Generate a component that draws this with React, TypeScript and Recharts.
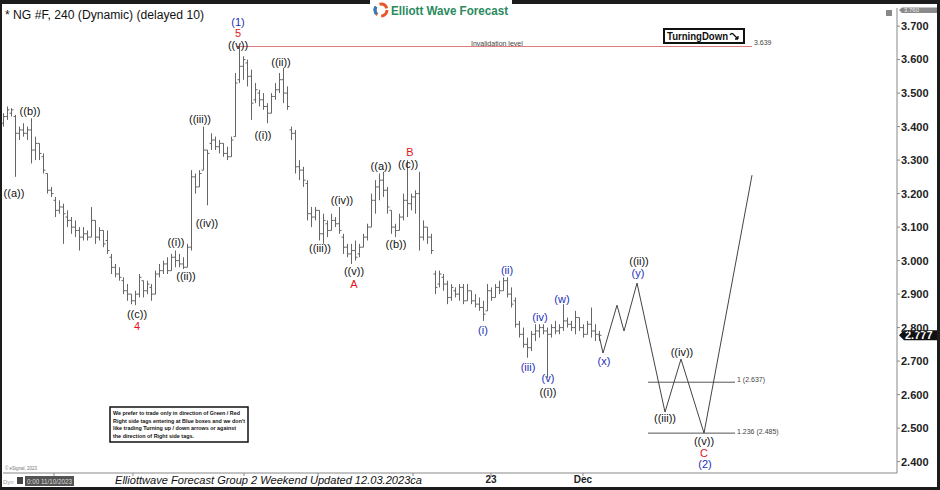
import React from "react";
import { ComposedChart, Bar, Line, Scatter, XAxis, YAxis, ReferenceLine } from "recharts";

const FONT = "Arial, 'Liberation Sans', sans-serif";

// 240 min bars: open, high, low, close
const bars: [number, number, number, number][] = [
  [3.41, 3.44, 3.40, 3.43], [3.43, 3.46, 3.42, 3.45], [3.44, 3.455, 3.43, 3.45], [3.43, 3.435, 3.25, 3.38],
  [3.38, 3.40, 3.36, 3.39], [3.39, 3.41, 3.37, 3.38], [3.38, 3.40, 3.36, 3.39], [3.39, 3.425, 3.29, 3.33],
  [3.33, 3.37, 3.30, 3.35], [3.35, 3.35, 3.30, 3.32], [3.31, 3.32, 3.26, 3.27], [3.26, 3.26, 3.20, 3.21],
  [3.21, 3.22, 3.19, 3.20], [3.18, 3.19, 3.13, 3.15], [3.15, 3.18, 3.14, 3.16], [3.16, 3.17, 3.05, 3.14],
  [3.13, 3.15, 3.10, 3.12], [3.12, 3.13, 3.08, 3.10], [3.10, 3.12, 3.07, 3.09], [3.09, 3.10, 3.03, 3.07],
  [3.07, 3.10, 3.06, 3.08], [3.08, 3.09, 3.06, 3.07], [3.07, 3.16, 3.07, 3.12], [3.12, 3.12, 3.05, 3.07],
  [3.07, 3.10, 3.06, 3.09], [3.09, 3.09, 3.04, 3.05], [3.06, 3.09, 3.02, 3.03], [3.01, 3.02, 2.96, 2.98],
  [2.98, 2.99, 2.95, 2.96], [2.96, 2.98, 2.94, 2.95], [2.94, 2.95, 2.90, 2.91], [2.91, 2.93, 2.88, 2.90],
  [2.90, 2.90, 2.87, 2.88], [2.88, 2.91, 2.867, 2.90], [2.90, 2.96, 2.89, 2.95], [2.94, 2.94, 2.89, 2.91],
  [2.91, 2.94, 2.90, 2.93], [2.92, 2.93, 2.88, 2.90], [2.90, 2.97, 2.90, 2.96], [2.96, 2.99, 2.95, 2.97],
  [2.97, 3.00, 2.96, 2.99], [2.99, 3.01, 2.96, 2.97], [2.97, 3.02, 2.97, 3.01], [3.01, 3.03, 2.98, 3.00],
  [3.00, 3.02, 2.98, 2.99], [2.99, 3.01, 2.975, 2.98], [2.98, 3.05, 2.98, 3.04], [3.04, 3.27, 3.03, 3.25],
  [3.25, 3.26, 3.20, 3.22], [3.22, 3.27, 3.22, 3.26], [3.27, 3.40, 3.27, 3.33], [3.33, 3.33, 3.165, 3.32],
  [3.35, 3.38, 3.33, 3.36], [3.36, 3.37, 3.33, 3.34], [3.34, 3.36, 3.32, 3.35], [3.35, 3.35, 3.31, 3.32],
  [3.32, 3.34, 3.30, 3.31], [3.31, 3.37, 3.31, 3.36], [3.37, 3.56, 3.37, 3.53], [3.54, 3.639, 3.53, 3.58],
  [3.58, 3.61, 3.54, 3.60], [3.59, 3.60, 3.52, 3.55], [3.55, 3.57, 3.42, 3.47], [3.48, 3.53, 3.47, 3.51],
  [3.50, 3.51, 3.46, 3.48], [3.48, 3.50, 3.45, 3.46], [3.46, 3.47, 3.41, 3.44], [3.44, 3.50, 3.44, 3.49],
  [3.49, 3.53, 3.48, 3.51], [3.51, 3.56, 3.50, 3.54], [3.54, 3.575, 3.47, 3.50], [3.50, 3.52, 3.45, 3.46],
  [3.39, 3.40, 3.36, 3.38], [3.38, 3.39, 3.26, 3.28], [3.28, 3.30, 3.24, 3.27], [3.27, 3.28, 3.22, 3.24],
  [3.23, 3.24, 3.12, 3.14], [3.14, 3.16, 3.10, 3.13], [3.13, 3.16, 3.12, 3.15], [3.15, 3.15, 3.06, 3.08],
  [3.08, 3.14, 3.05, 3.12], [3.11, 3.12, 3.07, 3.09], [3.09, 3.14, 3.09, 3.12], [3.12, 3.13, 3.10, 3.11],
  [3.11, 3.16, 3.08, 3.09], [3.07, 3.08, 3.02, 3.04], [3.04, 3.05, 3.01, 3.02], [3.02, 3.05, 2.99, 3.03],
  [3.03, 3.06, 3.00, 3.01], [3.02, 3.05, 3.01, 3.04], [3.04, 3.08, 3.04, 3.07], [3.07, 3.11, 3.06, 3.10],
  [3.10, 3.20, 3.10, 3.18], [3.18, 3.24, 3.14, 3.22], [3.22, 3.26, 3.18, 3.24], [3.24, 3.265, 3.19, 3.21],
  [3.21, 3.22, 3.14, 3.16], [3.15, 3.15, 3.08, 3.10], [3.10, 3.11, 3.07, 3.09], [3.09, 3.14, 3.09, 3.13],
  [3.13, 3.20, 3.12, 3.18], [3.18, 3.30, 3.13, 3.17], [3.17, 3.20, 3.15, 3.19], [3.19, 3.21, 3.14, 3.20],
  [3.20, 3.265, 3.03, 3.07], [3.07, 3.12, 3.06, 3.10], [3.10, 3.10, 3.05, 3.07], [3.07, 3.08, 3.02, 3.03],
  [2.96, 2.97, 2.90, 2.92], [2.93, 2.97, 2.92, 2.96], [2.95, 2.96, 2.91, 2.93], [2.93, 2.94, 2.87, 2.89],
  [2.89, 2.93, 2.88, 2.92], [2.91, 2.92, 2.89, 2.90], [2.90, 2.93, 2.88, 2.92], [2.92, 2.93, 2.87, 2.88],
  [2.88, 2.93, 2.88, 2.91], [2.91, 2.91, 2.87, 2.88], [2.88, 2.90, 2.86, 2.87], [2.87, 2.89, 2.85, 2.86],
  [2.86, 2.88, 2.82, 2.84], [2.85, 2.93, 2.85, 2.91], [2.91, 2.92, 2.88, 2.89], [2.89, 2.93, 2.89, 2.92],
  [2.92, 2.94, 2.90, 2.91], [2.91, 2.95, 2.91, 2.94], [2.94, 2.95, 2.89, 2.90], [2.90, 2.92, 2.86, 2.87],
  [2.88, 2.89, 2.80, 2.81], [2.81, 2.82, 2.77, 2.78], [2.78, 2.80, 2.74, 2.75], [2.75, 2.77, 2.71, 2.74],
  [2.74, 2.79, 2.73, 2.78], [2.78, 2.81, 2.76, 2.79], [2.79, 2.81, 2.77, 2.80], [2.80, 2.81, 2.78, 2.79],
  [2.79, 2.80, 2.65, 2.78], [2.78, 2.81, 2.77, 2.80], [2.80, 2.82, 2.78, 2.79], [2.79, 2.81, 2.78, 2.80],
  [2.80, 2.87, 2.79, 2.82], [2.82, 2.83, 2.80, 2.81], [2.81, 2.82, 2.79, 2.80], [2.80, 2.85, 2.78, 2.83],
  [2.83, 2.83, 2.79, 2.80], [2.80, 2.81, 2.77, 2.78], [2.78, 2.82, 2.78, 2.81], [2.81, 2.86, 2.77, 2.79],
  [2.79, 2.81, 2.76, 2.78], [2.78, 2.79, 2.76, 2.777],
];

// projected path (bar index, price)
const projIdx = [149, 150, 153.5, 155.25, 158.5, 165.5, 169.5, 175.25, 187.25];
const projVal = [2.777, 2.724, 2.867, 2.79, 2.933, 2.548, 2.706, 2.485, 3.255];

const yTicks = [2.4, 2.5, 2.6, 2.7, 2.8, 2.9, 3.0, 3.1, 3.2, 3.3, 3.4, 3.5, 3.6, 3.7];
const xTickIdx = [12.75, 32.5, 60.25, 78.75, 102.5, 122, 145];
const xTickText = ["", "", "", "", "", "23", "Dec"];

const lastPrice = 2.777;
const invalidation = 3.639;
const invalidFrom = 58.25;
const invalidTo = 187.25;
const fibLevels = [2.637, 2.485];
const fibFrom = 161.25;
const fibTo = 183;

const waveLabels = [
  { i: 58.75, v: 3.712, text: "(1)", kind: "b" },
  { i: 58.75, v: 3.679, text: "5", kind: "r" },
  { i: 58.75, v: 3.644, text: "((v))", kind: "k" },
  { i: 2.75, v: 3.201, text: "((a))", kind: "k" },
  { i: 6.75, v: 3.446, text: "((b))", kind: "k" },
  { i: 33.5, v: 2.842, text: "((c))", kind: "k" },
  { i: 33.5, v: 2.806, text: "4", kind: "r" },
  { i: 43.25, v: 3.055, text: "((i))", kind: "k" },
  { i: 45.75, v: 2.954, text: "((ii))", kind: "k" },
  { i: 49.25, v: 3.422, text: "((iii))", kind: "k" },
  { i: 51, v: 3.112, text: "((iv))", kind: "k" },
  { i: 65, v: 3.375, text: "((i))", kind: "k" },
  { i: 69.5, v: 3.593, text: "((ii))", kind: "k" },
  { i: 79.25, v: 3.037, text: "((iii))", kind: "k" },
  { i: 84.75, v: 3.181, text: "((iv))", kind: "k" },
  { i: 87.75, v: 2.968, text: "((v))", kind: "k" },
  { i: 87.75, v: 2.931, text: "A", kind: "r" },
  { i: 94.5, v: 3.282, text: "((a))", kind: "k" },
  { i: 98.25, v: 3.049, text: "((b))", kind: "k" },
  { i: 101.25, v: 3.288, text: "((c))", kind: "k" },
  { i: 101.75, v: 3.325, text: "B", kind: "r" },
  { i: 120, v: 2.793, text: "(i)", kind: "b" },
  { i: 126, v: 2.972, text: "(ii)", kind: "b" },
  { i: 131.25, v: 2.682, text: "(iii)", kind: "b" },
  { i: 134.25, v: 2.831, text: "(iv)", kind: "b" },
  { i: 136.25, v: 2.649, text: "(v)", kind: "b" },
  { i: 136.25, v: 2.607, text: "((i))", kind: "k" },
  { i: 139.75, v: 2.885, text: "(w)", kind: "b" },
  { i: 150.25, v: 2.7, text: "(x)", kind: "b" },
  { i: 159, v: 3.0, text: "((ii))", kind: "k" },
  { i: 158.75, v: 2.963, text: "(y)", kind: "b" },
  { i: 165.5, v: 2.53, text: "((iii))", kind: "k" },
  { i: 169.75, v: 2.727, text: "((iv))", kind: "k" },
  { i: 175.25, v: 2.461, text: "((v))", kind: "k" },
  { i: 175.25, v: 2.425, text: "C", kind: "r" },
  { i: 175.5, v: 2.393, text: "(2)", kind: "b" },
];

const levelNotes = [
  { i: 117, v: 3.649, text: "Invalidation level" },
  { i: 187.75, v: 3.652, text: "3.639" },
  { i: 183.5, v: 2.646, text: "1 (2.637)" },
  { i: 183.5, v: 2.491, text: "1.236 (2.485)" },
];

const priceTags = [{ i: 223.5, v: lastPrice, text: "2.777" }];

const kindColor: Record<string, string> = { k: "#111111", b: "#1b2fb8", r: "#e2141a" };

const barData = bars.map((b, i) => ({ i, o: b[0], h: b[1], l: b[2], c: b[3] }));
const projData = projIdx.map((i, k) => ({ i, p: projVal[k] }));

function OhlcShape(props: any) {
  const { x, y, width, height, payload } = props;
  if (x == null || y == null || !payload) return null;
  const cx = Math.round(x + width / 2) + 0.5;
  const top = Math.min(y, y + height);
  const bot = Math.max(y, y + height);
  const span = payload.h - payload.l || 1;
  const yo = top + ((payload.h - payload.o) / span) * (bot - top);
  const yc = top + ((payload.h - payload.c) / span) * (bot - top);
  return (
    <g stroke="#666" strokeWidth={1}>
      <line x1={cx} x2={cx} y1={top} y2={bot} />
      <line x1={cx - 2} x2={cx} y1={yo} y2={yo} />
      <line x1={cx} x2={cx + 2} y1={yc} y2={yc} />
    </g>
  );
}

function WaveText(props: any) {
  const { cx, cy, payload } = props;
  if (cx == null || cy == null) return null;
  return (
    <text x={cx} y={cy} textAnchor="middle" dominantBaseline="central" fontFamily={FONT}
      fontSize={11} fill={kindColor[payload.kind]}>
      {payload.text}
    </text>
  );
}

function NoteText(props: any) {
  const { cx, cy, payload } = props;
  if (cx == null || cy == null) return null;
  return (
    <text x={cx} y={cy} dominantBaseline="central" fontFamily={FONT} fontSize={7} fill="#444">
      {payload.text}
    </text>
  );
}

function PriceTag(props: any) {
  const { cx, cy, payload } = props;
  if (cx == null || cy == null) return null;
  const l = cx + 2;
  return (
    <g>
      <polygon points={`${l},${cy} ${l + 5},${cy - 5} ${l + 41},${cy - 5} ${l + 41},${cy + 5} ${l + 5},${cy + 5}`} fill="#111" />
      <text x={l + 6} y={cy} dominantBaseline="central" fontFamily={FONT} fontSize={11} fontWeight="bold" fill="#fff">
        {payload.text}
      </text>
    </g>
  );
}

function Chrome() {
  return (
    <svg width={940} height={490} style={{ position: "absolute", left: 0, top: 0, pointerEvents: "none" }}>
      <rect x={0} y={0} width={940} height={4} fill="#1c1c1c" />
      <rect x={0} y={0} width={2} height={490} fill="#1c1c1c" />
      <rect x={937} y={0} width={3} height={490} fill="#1c1c1c" />
      <rect x={0} y={487} width={940} height={3} fill="#1c1c1c" />

      <text x={5} y={19} fontFamily={FONT} fontSize={12} fill="#111" textLength={199} lengthAdjust="spacingAndGlyphs">
        * NG #F, 240 (Dynamic) (delayed 10)
      </text>

      <rect x={370} y={0} width={142} height={20} fill="#fff" />
      <circle cx={381} cy={10} r={6} fill="none" stroke="#e8572a" strokeWidth={3} strokeDasharray="9 4" />
      <circle cx={381} cy={10} r={6} fill="none" stroke="#2a7fc1" strokeWidth={3} strokeDasharray="8 30" strokeDashoffset={-14} />
      <text x={391} y={15} fontFamily={FONT} fontSize={12} fontWeight="bold" fill="#2a8a5e" textLength={117} lengthAdjust="spacingAndGlyphs">
        Elliott Wave Forecast
      </text>

      <rect x={664} y={29} width={80} height={14} fill="#fff" stroke="#111" strokeWidth={2} />
      <text x={667} y={40} fontFamily={FONT} fontSize={11} fontWeight="bold" fill="#111" textLength={61} lengthAdjust="spacingAndGlyphs">
        TurningDown
      </text>
      <path d="M730,35 q2,-3 4,0 l4,4 m0,0 l-3,0 m3,0 l0,-3" fill="none" stroke="#111" strokeWidth={1.3} />

      <rect x={886} y={10} width={6} height={6} fill="#888" />
      <polygon points="899,10 902,7.5 937,7.5 937,13 902,13" fill="#8a8a8a" />
      <text x={904} y={12} fontFamily={FONT} fontSize={6} fill="#eee">3.760</text>

      <rect x={110} y={407} width={138} height={35} fill="#fff" stroke="#111" strokeWidth={1.5} />
      <g fontFamily={FONT} fontSize={5.3} fontWeight="bold" fill="#111">
        <text x={113} y={415} textLength={127} lengthAdjust="spacingAndGlyphs">We prefer to trade only in direction of Green / Red</text>
        <text x={113} y={422.5} textLength={132} lengthAdjust="spacingAndGlyphs">Right side tags entering at Blue boxes and we don't</text>
        <text x={113} y={430} textLength={123} lengthAdjust="spacingAndGlyphs">like trading Turning up / down arrows or against</text>
        <text x={113} y={437.5} textLength={81} lengthAdjust="spacingAndGlyphs">the direction of Right side tags.</text>
      </g>

      <text x={5} y={470} fontFamily={FONT} fontSize={4.5} fill="#777">© eSignal, 2023</text>

      <text x={3} y={484} fontFamily={FONT} fontSize={6} fill="#999">Dyn</text>
      <rect x={17} y={477} width={6} height={7} fill="#444" />
      <rect x={25} y={476} width={49} height={10} fill="#555" />
      <text x={27} y={484} fontFamily={FONT} fontSize={7} fill="#ddd" textLength={45} lengthAdjust="spacingAndGlyphs">0:00 11/10/2023</text>

      <text x={115} y={484} fontFamily={FONT} fontSize={11} fontStyle="italic" fill="#111" textLength={307} lengthAdjust="spacingAndGlyphs">
        Elliottwave Forecast Group 2 Weekend Updated 12.03.2023ca
      </text>
    </svg>
  );
}

export default function App() {
  return (
    <div style={{ position: "absolute", left: 0, top: 0, width: 940, height: 490, background: "#fff" }}>
      <ComposedChart width={940} height={490} data={barData} margin={{ top: 8, right: 3, bottom: 5, left: 3 }}>
        <XAxis dataKey="i" type="number" domain={[0, 223.5]} ticks={xTickIdx} interval={0} height={12}
          tickSize={3} tickMargin={0} axisLine={{ stroke: "#888" }} tickLine={{ stroke: "#888" }}
          tick={{ fontSize: 10, fontWeight: "bold", fill: "#222", fontFamily: FONT }}
          tickFormatter={(v: number) => xTickText[xTickIdx.indexOf(v)] ?? ""} />
        <YAxis orientation="right" type="number" domain={[2.366, 3.754]} ticks={yTicks} width={40}
          tickSize={3} tickMargin={1} axisLine={{ stroke: "#888" }} tickLine={{ stroke: "#888" }}
          tick={{ fontSize: 11, fontWeight: "bold", fill: "#222", fontFamily: FONT }}
          tickFormatter={(v: number) => v.toFixed(3)} />
        <ReferenceLine segment={[{ x: invalidFrom, y: invalidation }, { x: invalidTo, y: invalidation }]}
          stroke="#e07a7a" strokeWidth={1} />
        {fibLevels.map((f) => (
          <ReferenceLine key={f} segment={[{ x: fibFrom, y: f }, { x: fibTo, y: f }]} stroke="#555" strokeWidth={1} />
        ))}
        <Bar dataKey={(d: any) => [d.l, d.h]} barSize={3} shape={OhlcShape} isAnimationActive={false} />
        <Line data={projData} dataKey="p" type="linear" stroke="#444" strokeWidth={1} dot={false} isAnimationActive={false} />
        <Scatter data={waveLabels} dataKey="v" shape={WaveText} isAnimationActive={false} />
        <Scatter data={levelNotes} dataKey="v" shape={NoteText} isAnimationActive={false} />
        <Scatter data={priceTags} dataKey="v" shape={PriceTag} isAnimationActive={false} />
      </ComposedChart>
      <Chrome />
    </div>
  );
}
